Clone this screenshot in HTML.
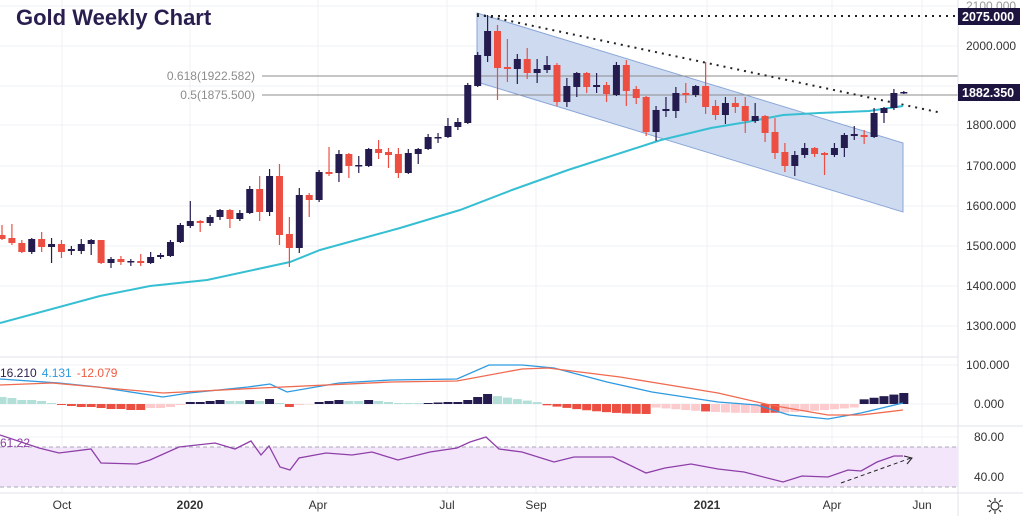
<!DOCTYPE html>
<html><head><meta charset="utf-8"><style>
html,body{margin:0;padding:0;background:#fff;width:1023px;height:516px;overflow:hidden}
svg{display:block}
text{font-family:"Liberation Sans",sans-serif}
</style></head><body>
<svg id="s" width="1023" height="516" viewBox="0 0 1023 516" xmlns="http://www.w3.org/2000/svg">
<g id="grid" stroke="#eef0f4" stroke-width="1"></g>
<polygon points="477,13 903,143 903,212 477,82" fill="#c9d6ee" fill-opacity="0.9" stroke="#8aa6d8" stroke-width="1"/>
<line x1="262" y1="76" x2="958" y2="76" stroke="#8c8c8c"/>
<line x1="262" y1="95" x2="958" y2="95" stroke="#8c8c8c"/>
<text x="255" y="80" text-anchor="end" font-size="12" fill="#8c8c8c">0.618(1922.582)</text>
<text x="255" y="99" text-anchor="end" font-size="12" fill="#8c8c8c">0.5(1875.500)</text>
<line x1="477" y1="16" x2="958" y2="16" stroke="#222" stroke-width="2" stroke-dasharray="2,5"/>
<line x1="477" y1="14" x2="942" y2="113" stroke="#222" stroke-width="2" stroke-dasharray="2,5"/>
<polyline fill="none" stroke="#36bfd2" stroke-width="2" points="0,323 100,296 150,286 207,280 290,262 320,250 400,228 460,210 512,190 568,170 661,140 711,128 747,122 783,115 819,113 869,111 903,106"/>
<g id="candles"></g>
<text x="16" y="25" font-size="22" font-weight="bold" fill="#2a1e4f">Gold Weekly Chart</text>
<line x1="0" y1="357" x2="958" y2="357" stroke="#e0e3eb"/>
<line x1="0" y1="426" x2="1023" y2="426" stroke="#e0e3eb"/>
<line x1="0" y1="493" x2="1023" y2="493" stroke="#e0e3eb"/>
<line x1="958" y1="0" x2="958" y2="516" stroke="#e0e3eb"/>
<rect x="0" y="447" width="958" height="40" fill="#f3e6fb"/>
<line x1="0" y1="447" x2="958" y2="447" stroke="#a8a8b8" stroke-dasharray="4,3"/>
<line x1="0" y1="487" x2="958" y2="487" stroke="#a8a8b8" stroke-dasharray="4,3"/>
<g id="hist"></g>
<polyline fill="none" stroke="#2f9ae0" stroke-width="1.3" points="0,379 59,383 98,387 163,397 189,393 248,387 270,384 287,392 339,383 391,380 457,379 489,365 522,365 554,368 607,382 652,392 718,402 757,405 789,415 828,419 861,413 903,403"/>
<polyline fill="none" stroke="#ef6a50" stroke-width="1.3" points="0,385 52,383 163,393 261,388 391,382 457,381 522,369 548,368 620,377 718,393 770,405 828,415 861,415 903,410"/>
<polyline fill="none" stroke="#8e3fa8" stroke-width="1.3" points="0,435 39,448 59,453 91,449 101,463 137,464 150,460 179,447 215,443 235,449 251,441 261,455 269,446 280,467 290,470 299,458 326,453 352,455 372,452 398,460 430,452 457,448 470,442 486,437 499,449 522,452 554,462 574,457 613,457 646,473 665,468 691,464 718,469 744,472 783,482 802,476 828,477 848,470 861,471 877,462 894,456 903,456"/>
<line x1="841" y1="483" x2="911" y2="458" stroke="#222" stroke-dasharray="4,3"/>
<polyline points="904,456 912,458 907,464" fill="none" stroke="#222"/>
<text x="0" y="377" font-size="12"><tspan fill="#2a1e4f">16.210</tspan><tspan fill="#2f9ae0" dx="5">4.131</tspan><tspan fill="#ef5a40" dx="5">-12.079</tspan></text>
<text x="0" y="447" font-size="12" fill="#8e3fa8">61.22</text>
<g font-size="12" fill="#333">
<text x="966" y="10" fill="#999">2100.000</text>
<text x="966" y="50">2000.000</text>
<text x="966" y="129">1800.000</text>
<text x="966" y="170">1700.000</text>
<text x="966" y="210">1600.000</text>
<text x="966" y="250">1500.000</text>
<text x="966" y="290">1400.000</text>
<text x="966" y="330">1300.000</text>
<text x="966" y="369">100.000</text>
<text x="974" y="408">0.000</text>
<text x="974" y="441">80.00</text>
<text x="974" y="481">40.00</text>
</g>
<rect x="958" y="8" width="62" height="17" fill="#1e1440"/>
<text x="962" y="21" font-size="12.5" font-weight="bold" fill="#fff">2075.000</text>
<rect x="958" y="84" width="62" height="17" fill="#1e1440"/>
<text x="962" y="97" font-size="12.5" font-weight="bold" fill="#fff">1882.350</text>
<g font-size="12" fill="#333" text-anchor="middle">
<text x="62" y="509">Oct</text>
<text x="190" y="509" font-weight="bold">2020</text>
<text x="318" y="509">Apr</text>
<text x="447" y="509">Jul</text>
<text x="536" y="509">Sep</text>
<text x="707" y="509" font-weight="bold">2021</text>
<text x="832" y="509">Apr</text>
<text x="922" y="509">Jun</text>
</g>
<g stroke="#333" fill="none" stroke-width="1.2"><circle cx="995" cy="506" r="4"/><path d="M995,498v3M995,511v3M987,506h3M1000,506h3M989,500l2,2M999,510l2,2M989,512l2,-2M999,502l2,-2"/></g>
</svg>
<script>
var NS="http://www.w3.org/2000/svg";
function el(p,t,a){var e=document.createElementNS(NS,t);for(var k in a)e.setAttribute(k,a[k]);p.appendChild(e);return e;}
var g=document.getElementById('grid');
[62,190,318,447,536,707,832,922].forEach(function(x){el(g,'line',{x1:x,y1:0,x2:x,y2:493});});
[6,46,86,125,166,206,246,286,326,365,404,437,477].forEach(function(y){el(g,'line',{x1:0,y1:y,x2:958,y2:y});});
var D='#241b4e',R='#ec4f42';
var c=[
[235,239,225,240,R],[238,243,224,245,R],[243,252,240,253,R],[239,252,238,254,D],[239,247,232,252,R],[244,247,238,263,D],[244,252,240,258,R],[249,251,246,255,D],[244,251,239,254,D],[240,244,239,255,D],
[240,263,240,264,R],[259,263,257,268,D],[259,262,256,265,R],[261,262,259,266,D],[261,263,254,266,R],[257,263,252,264,D],[255,257,253,259,D],[242,256,240,257,D],[225,242,223,243,D],[221,226,201,228,D],
[221,223,220,232,R],[217,223,215,226,D],[210,217,209,220,D],[210,219,209,228,R],[213,219,210,221,D],[189,213,186,214,D],[189,212,176,221,R],[176,212,169,216,D],[176,235,164,245,R],[234,248,217,267,R],
[195,248,188,253,D],[195,200,193,217,R],[172,200,170,202,D],[172,174,147,176,R],[154,173,150,182,D],[154,166,153,178,R],[165,166,156,173,D],[149,166,148,167,D],[149,153,140,159,R],[152,155,148,168,R],
[154,173,148,178,R],[153,173,149,174,D],[149,154,148,164,D],[137,149,134,150,D],[137,138,133,143,D],[126,137,118,138,D],[122,127,118,130,D],[85,123,83,124,D],[55,86,52,87,D],[31,56,15,62,D],
[31,68,25,100,R],[67,69,39,82,R],[59,69,54,84,D],[59,73,48,79,R],[69,73,59,83,D],[65,70,56,73,D],[65,102,63,106,R],[86,102,78,107,D],[73,87,72,97,D],[73,87,72,93,R],
[85,87,73,93,D],[85,94,82,102,R],[65,95,62,96,D],[65,91,60,106,R],[89,98,86,104,R],[97,132,96,136,R],[110,132,106,141,D],[109,111,97,117,D],[93,111,87,118,D],[93,95,83,103,R],
[86,95,85,97,D],[86,107,62,114,R],[106,115,100,120,R],[103,115,97,124,D],[103,107,97,113,R],[106,121,97,133,R],[116,121,103,123,D],[116,133,115,142,R],[132,153,118,159,R],[152,166,143,172,R],
[155,166,151,176,D],[148,155,143,158,D],[148,154,147,157,R],[153,155,152,175,R],[148,155,143,157,D],[135,148,133,157,D],[134,136,126,140,D],[135,137,130,144,R],[113,137,108,138,D],[108,113,107,123,D],
[93,108,89,110,D],[92,93,91,94,D]];
var cg=document.getElementById('candles');
c.forEach(function(d,i){var x=2+i*9.91;
 el(cg,'line',{x1:x,y1:d[2],x2:x,y2:d[3],stroke:d[4],'stroke-width':1.2});
 var h=Math.max(1.5,d[1]-d[0]);el(cg,'rect',{x:x-3.5,y:d[0],width:7,height:h,fill:d[4]});});
var ex=[['t',7],['t',6],['t',4],['t',4],['t',3],['t',1],['n',-1],['n',-2],['n',-3],['n',-3],['n',-4],['n',-5],['n',-5],['n',-6],['n',-6],['p',-4],['p',-4],['p',-3],['p',-1],['d',2],
['d',2],['d',3],['d',4],['t',3],['t',3],['d',4],['t',3],['d',5],['t',1],['n',-3],['p',-1],['p',-0.5],['d',2],['d',3],['d',4],['t',3],['t',3],['d',4],['t',3],['t',2],
['t',1],['t',1],['t',1],['d',1],['d',1.5],['d',2],['d',2],['d',4],['d',7],['d',10]];
var xs=[[490,545,'t',function(x){return 9-(x-490)*0.15;}],[545,650,'n',function(x){return -1-9*Math.sin(Math.PI*(x-545)/210);}],[650,860,'p',function(x){return -3-6*Math.sin(Math.PI*(x-650)/210);}],[860,910,'d',function(x){return 4+(x-860)*0.16;}]];
var hg=document.getElementById('hist');
for(var i=0;i<92;i++){var x=2+i*9.91,v=0,t='t';
 if(i<ex.length){t=ex[i][0];v=ex[i][1];}
 else for(var k=0;k<xs.length;k++){if(x>=xs[k][0]&&x<xs[k][1]){v=xs[k][3](x);t=xs[k][2];break;}}
 var col={t:'#b2dfd8',d:'#241b4e',n:'#ec4f42',p:'#fccbcd'}[t];
 if((x>700&&x<715)||(x>765&&x<782))col='#ec4f42';
 var y0=404,h=Math.abs(v);
 el(hg,'rect',{x:x-4.5,y:v>0?y0-h:y0,width:9,height:h,fill:col});}
</script>
</body></html>
